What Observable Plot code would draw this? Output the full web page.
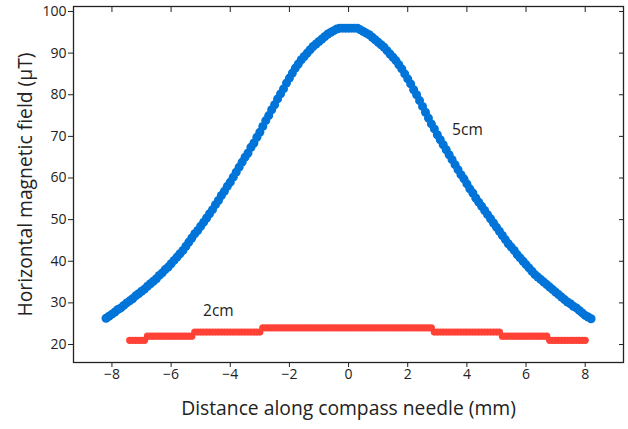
<!DOCTYPE html>
<html><head><meta charset="utf-8">
<script src="https://cdn.jsdelivr.net/npm/d3@7"></script>
<script src="https://cdn.jsdelivr.net/npm/@observablehq/plot@0.6"></script>
<style>
html,body{margin:0;padding:0;background:#fff;}
</style></head><body><div id="chart"></div>
<script>
// 5 cm series: sampled from -8.2 mm to 8.2 mm every 0.1 mm
const start5cm = -8.2;
const step5cm = 0.1;
const field5cm = [
26.3,26.8,27.3,27.8,28.4,28.8,29.4,30.0,30.5,31.0,
31.7,32.2,32.8,33.3,34.0,34.6,35.2,35.8,36.6,37.2,
38.0,38.6,39.4,40.2,41.0,41.8,42.6,43.6,44.6,45.6,
46.6,47.4,48.4,49.4,50.4,51.4,52.4,53.6,54.6,55.8,
56.8,58.0,59.0,60.2,61.4,62.6,63.8,65.0,66.0,67.4,
68.4,69.8,71.0,72.4,73.8,75.0,76.4,77.6,79.0,80.2,
81.4,82.8,84.0,85.2,86.4,87.4,88.4,89.2,90.0,90.8,
91.6,92.2,92.8,93.4,94.0,94.6,95.0,95.4,95.8,96.0,
96.0,96.0,96.0,
96.0,96.0,96.0,95.6,95.2,94.8,94.4,93.8,93.2,92.6,
92.0,91.4,90.6,89.8,89.0,88.2,87.2,86.2,85.0,83.8,
82.6,81.2,80.0,78.6,77.2,75.8,74.4,73.0,71.8,70.4,
69.2,68.0,66.8,65.6,64.4,63.2,62.0,60.8,59.8,58.6,
57.4,56.4,55.2,54.2,53.2,52.2,51.2,50.2,49.2,48.2,
47.2,46.2,45.2,44.2,43.4,42.6,41.6,40.8,40.0,39.2,
38.4,37.6,36.8,36.2,35.6,35.0,34.4,33.8,33.2,32.6,
32.0,31.4,30.8,30.2,29.8,29.2,28.8,28.2,27.6,27.0,
26.6,26.2
];
// 2 cm series: sampled from -7.4 mm to 8.0 mm every 0.1 mm
const start2cm = -7.4;
const step2cm = 0.1;
const field2cm = [
21,21,21,21,21,21,
22,22,22,22,22,22,22,22,22,22,22,22,22,22,22,22,
23,23,23,23,23,23,23,23,23,23,23,23,23,23,23,23,23,23,23,23,23,23,23,
24,24,24,24,24,24,24,24,24,24,24,24,24,24,24,24,24,24,24,24,
24,24,24,24,24,24,24,24,24,24,24,24,24,24,24,24,24,24,24,24,
24,24,24,24,24,24,24,24,24,24,24,24,24,24,24,24,24,24,
23,23,23,23,23,23,23,23,23,23,23,23,23,23,23,23,23,23,23,23,23,23,23,
22,22,22,22,22,22,22,22,22,22,22,22,22,22,22,22,
21,21,21,21,21,21,21,21,21,21,21,21,21
];
const xTicks = [-8,-6,-4,-2,0,2,4,6,8];
const yTicks = [20,30,40,50,60,70,80,90,100];
const labelTexts = ["5cm","2cm"];
const labelX = [3.5,-4.92];
const labelY = [71.5,28.1];
const xTitle = "Distance along compass needle (mm)";
const yTitle = "Horizontal magnetic field (µT)";

const data5 = field5cm.map((v,i)=>({x:+(start5cm+i*step5cm).toFixed(2), y:v}));
const data2 = field2cm.map((v,i)=>({x:+(start2cm+i*step2cm).toFixed(2), y:v}));
const labels = labelTexts.map((t,i)=>({x:labelX[i], y:labelY[i], text:t}));

const ink = "#222";
const chart = Plot.plot({
  width: 628, height: 429,
  marginLeft: 73, marginRight: 5, marginTop: 6, marginBottom: 67,
  style: {fontFamily: "'Open Sans', sans-serif", fontSize: "14px", color: ink, background: "#fff"},
  x: {domain: [-9.3, 9.295]},
  y: {domain: [15.68, 101.2]},
  marks: [
    Plot.frame({stroke: ink, strokeWidth: 1.3}),
    Plot.axisX(xTicks, {anchor: "bottom", tickSize: 5, tickPadding: 2, fontSize: 14, label: null, stroke: ink}),
    Plot.axisX(xTicks, {anchor: "top", tickSize: -5, tickFormat: () => "", label: null, stroke: ink}),
    Plot.axisY(yTicks, {anchor: "left", tickSize: 5, tickPadding: 2, fontSize: 14, label: null, stroke: ink}),
    Plot.axisY(yTicks, {anchor: "right", tickSize: -5, tickFormat: () => "", label: null, stroke: ink}),
    Plot.text([xTitle], {frameAnchor: "bottom", textAnchor: "middle", dy: 52, fontSize: 19.3, fill: ink}),
    Plot.text([yTitle], {frameAnchor: "left", textAnchor: "middle", dx: -48, rotate: -90, fontSize: 19.3, fill: ink}),
    Plot.dot(data2, {x: "x", y: "y", r: 3.6, fill: "#FF4136"}),
    Plot.dot(data5, {x: "x", y: "y", r: 4.5, fill: "#0074D9"}),
    Plot.text(labels, {x: "x", y: "y", text: "text", textAnchor: "start", fontSize: 15.5, fill: ink})
  ]
});
document.getElementById("chart").appendChild(chart);
</script>
</body></html>
